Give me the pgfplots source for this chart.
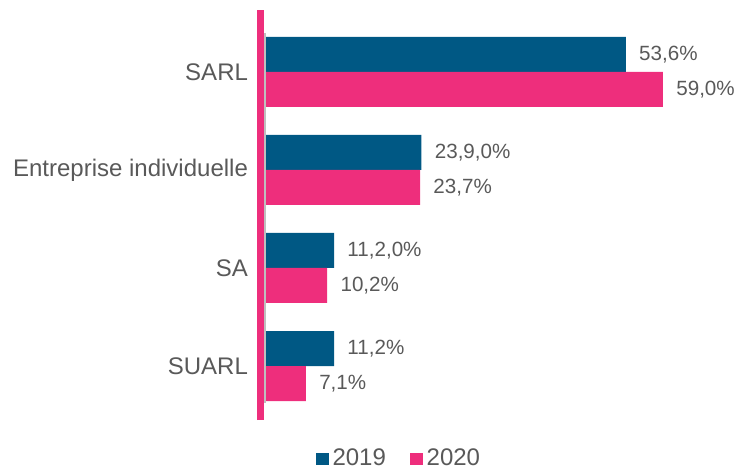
\documentclass[border=0pt]{standalone}
\usepackage{pgfplots}
\pgfplotsset{compat=1.18}
\usepackage{fontspec}
\setmainfont{Liberation Sans}
\definecolor{bleu}{RGB}{0,88,132}
\definecolor{rose}{RGB}{238,46,124}
\definecolor{txt}{RGB}{89,89,89}
\begin{document}
\begin{tikzpicture}
\begin{axis}[
 xbar, width=230.5pt, height=205pt, scale only axis,
 xmin=0, xmax=67, ymin=-0.63, ymax=3.55, y dir=reverse,
 bar width=17.5pt,
 ytick={0,1,2,3}, yticklabels={SARL,Entreprise individuelle,SA,SUARL},
 yticklabel style={font=\fontsize{12}{14}\selectfont, text=txt, xshift=-1pt},
 major tick length=0pt,
 hide x axis, axis y line*=left, y axis line style={draw=none},
 clip=false,
 point meta=explicit symbolic,
 nodes near coords,
 every node near coord/.append style={font=\fontsize{10.3}{13}\selectfont, text=txt, anchor=west, inner xsep=0pt, xshift=6.5pt},
 legend style={at={(0.31,-0.095)}, anchor=center, draw=none, legend columns=2,
   font=\fontsize{12}{14}\selectfont, text=txt, /tikz/every even column/.append style={column sep=10pt}},
 legend image code/.code={\fill[#1] (0pt,-3.2pt) rectangle (6.4pt,3.2pt);},
]
\addplot[fill=bleu, draw=none, bar shift=8.75pt] coordinates {(53.6,0) [53,6\%] (23.9,1) [23,9,0\%] (11.2,2) [11,2,0\%] (11.2,3) [11,2\%]};
\addplot[fill=rose, draw=none, bar shift=-8.75pt] coordinates {(59.0,0) [59,0\%] (23.7,1) [23,7\%] (10.2,2) [10,2\%] (7.1,3) [7,1\%]};
\legend{2019,2020}
\draw[black!25, line width=1pt] ([xshift=4pt]axis cs:0,-0.40) -- ([xshift=4pt]axis cs:0,3.38);
\draw[rose, line width=3.5pt] ([xshift=1.75pt]rel axis cs:0,0) -- ([xshift=1.75pt]rel axis cs:0,1);
\coordinate (bl) at (axis cs:0,3.55);
\coordinate (tr) at (axis cs:67,-0.63);
\end{axis}
\pgfresetboundingbox
\path[use as bounding box] ([xshift=-128.5pt,yshift=-25.5pt]bl) rectangle ([xshift=8.5pt,yshift=5pt]tr);
\end{tikzpicture}
\end{document}
